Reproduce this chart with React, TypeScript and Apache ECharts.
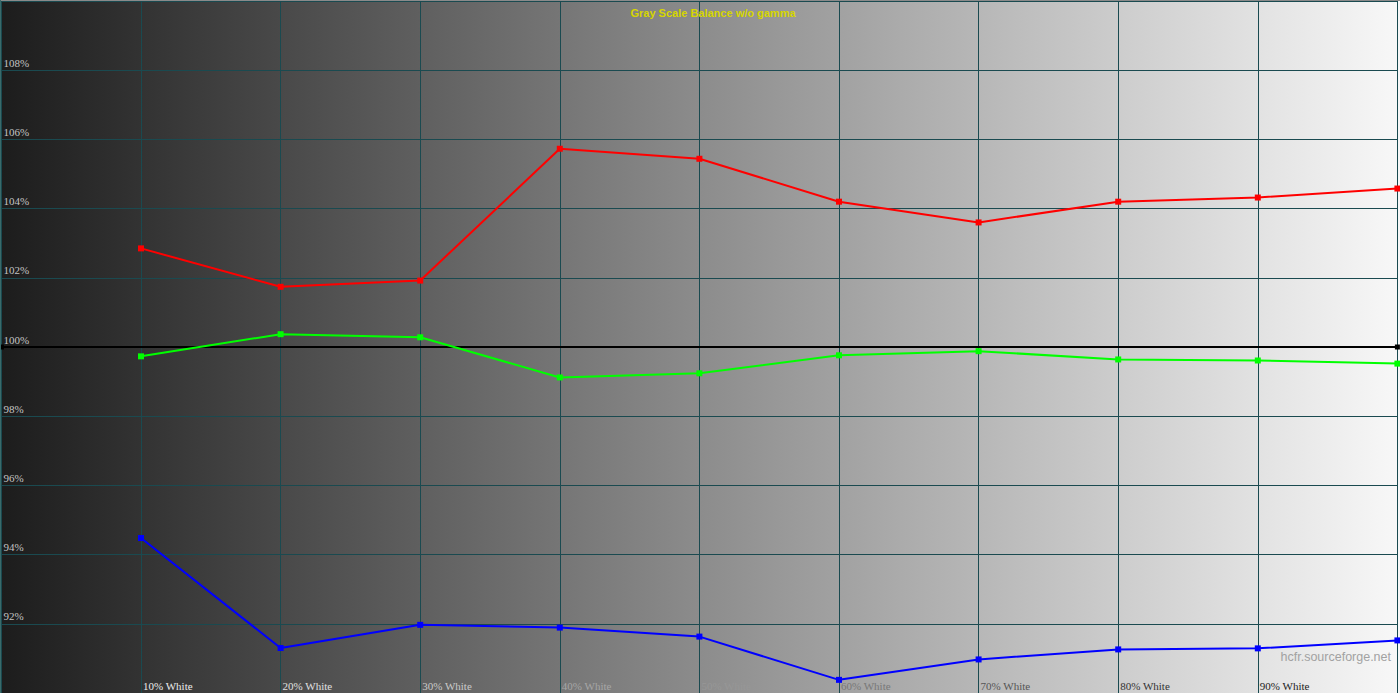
import React, { useEffect, useRef } from "react";
import * as echarts from "echarts";

const categories = [10, 20, 30, 40, 50, 60, 70, 80, 90, 100];
const redValues = [102.85, 101.74, 101.92, 105.73, 105.44, 104.2, 103.6, 104.2, 104.32, 104.58];
const greenValues = [99.73, 100.37, 100.28, 99.12, 99.24, 99.76, 99.88, 99.64, 99.61, 99.52];
const blueValues = [94.48, 91.3, 91.97, 91.89, 91.63, 90.38, 90.97, 91.26, 91.29, 91.52];
const referenceLine = [[0, 100], [100, 100]];
const xLabelColors: Record<number, string> = {
  10: "#ececec", 20: "#e0e0e0", 30: "#cacaca", 40: "#a6a6a6", 50: "#979797",
  60: "#787878", 70: "#555555", 80: "#333333", 90: "#222222",
};

export default function App() {
  const ref = useRef<HTMLDivElement>(null);
  useEffect(() => {
    if (!ref.current) return;
    const chart = echarts.init(ref.current, null, { renderer: "svg" });
    const pair = (vals: number[]) => categories.map((c, i) => [c, vals[i]]);
    chart.setOption({
      animation: false,
      backgroundColor: "transparent",
      title: {
        text: "Gray Scale Balance w/o gamma",
        left: 708,
        textAlign: "center",
        top: 2,
        textStyle: { color: "#d6d600", fontSize: 11, fontWeight: "bold", fontFamily: "Liberation Sans, Arial, sans-serif" },
      },
      grid: { left: 1.4, top: 1, width: 1396, height: 694 },
      xAxis: {
        type: "value",
        min: 0,
        max: 100,
        interval: 10,
        axisLine: { show: false },
        axisTick: { show: false },
        splitLine: { show: true, lineStyle: { color: "#1a4a50", width: 1 } },
        axisLabel: {
          inside: true,
          margin: 2,
          align: "left",
          padding: [0, 0, 0, 2],
          showMinLabel: false,
          showMaxLabel: false,
          fontFamily: "Liberation Serif, Times New Roman, serif",
          fontSize: 11,
          formatter: (v: number) => (v > 0 && v < 100 ? `${v}% White` : ""),
          color: (v: any) => xLabelColors[Number(v)] || "#888",
        },
      },
      yAxis: {
        type: "value",
        min: 90,
        max: 110,
        interval: 2,
        axisLine: { show: false },
        axisTick: { show: false },
        splitLine: { show: true, lineStyle: { color: "#1a4a50", width: 1 } },
        axisLabel: {
          inside: true,
          margin: 2,
          align: "left",
          verticalAlign: "bottom",
          padding: [0, 0, 2, 0],
          fontFamily: "Liberation Serif, Times New Roman, serif",
          fontSize: 11,
          color: "#c4c4c4",
          formatter: (v: number) => (v > 90 && v < 110 ? `${v}%` : ""),
        },
      },
      graphic: [
        { type: "rect", shape: { x: 0, y: 0, width: 1400, height: 1 }, style: { fill: "#8a8a8a" }, z: 10 },
        { type: "rect", shape: { x: 0, y: 0, width: 1, height: 693 }, style: { fill: "#3a6a6a" }, z: 10 },
        {
          type: "text",
          right: 9,
          top: 650,
          style: { text: "hcfr.sourceforge.net", fill: "#a2a2a2", fontSize: 12.5, fontFamily: "Liberation Sans, Arial, sans-serif" },
          z: 10,
        },
      ],
      series: [
        {
          type: "line",
          data: referenceLine,
          symbol: "rect",
          symbolSize: 5,
          lineStyle: { color: "#000000", width: 2 },
          itemStyle: { color: "#000000" },
          z: 2,
        },
        {
          type: "line",
          data: pair(redValues),
          symbol: "rect",
          symbolSize: 6,
          lineStyle: { color: "#ff0000", width: 2 },
          itemStyle: { color: "#ff0000" },
          z: 3,
        },
        {
          type: "line",
          data: pair(greenValues),
          symbol: "rect",
          symbolSize: 6,
          lineStyle: { color: "#00ff00", width: 2 },
          itemStyle: { color: "#00ff00" },
          z: 3,
        },
        {
          type: "line",
          data: pair(blueValues),
          symbol: "rect",
          symbolSize: 6,
          lineStyle: { color: "#0000ff", width: 2 },
          itemStyle: { color: "#0000ff" },
          z: 3,
        },
      ],
    });
    return () => chart.dispose();
  }, []);
  return (
    <div
      ref={ref}
      style={{
        position: "fixed",
        left: 0,
        top: 0,
        width: 1400,
        height: 693,
        background: "linear-gradient(to right, #1c1c1c 0%, #8c8c8c 50%, #f8f8f8 100%)",
      }}
    />
  );
}
